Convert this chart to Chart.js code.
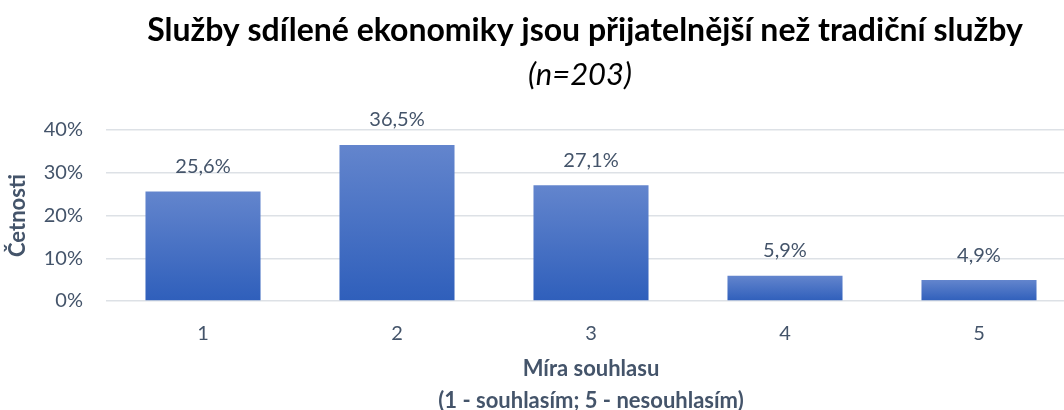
<!DOCTYPE html>
<html lang="cs">
<head>
<meta charset="utf-8">
<script src="https://cdn.jsdelivr.net/npm/chart.js@4"></script>
<style>
  html, body { margin: 0; padding: 0; background: #fff; overflow: hidden; }
  #wrap { width: 1080px; height: 417px; }
</style>
</head>
<body>
<div id="wrap"><canvas id="chart" width="1080" height="417"></canvas></div>
<script>
  // ── Data ─────────────────────────────────────────
  const categories = ['1', '2', '3', '4', '5'];
  const shares     = [25.6, 36.5, 27.1, 5.9, 4.9];
  const yTicks     = [0, 10, 20, 30, 40];
  const titleText  = 'Služby sdílené ekonomiky jsou přijatelnější než tradiční služby';
  const subText    = '(n=203)';
  const xTitle     = ['Míra souhlasu', '(1 - souhlasím; 5 - nesouhlasím)'];
  const yTitle     = 'Četnosti';

  const TEXT  = '#44546A';
  const GRID  = '#DDE1E6';
  const FONT  = "Lato, 'Open Sans', sans-serif";

  // per-bar vertical gradient
  function barFill(c) {
    const chart = c.chart;
    if (!chart.chartArea || c.parsed == null) return '#4472C4';
    const y = chart.scales.y;
    const top = y.getPixelForValue(c.parsed.y);
    const bot = y.getPixelForValue(0);
    const g = chart.ctx.createLinearGradient(0, top, 0, bot);
    g.addColorStop(0, '#6385CD');
    g.addColorStop(1, '#2F5FBB');
    return g;
  }

  // titles + value labels
  const overlay = {
    id: 'overlay',
    afterDatasetsDraw(chart) {
      const ctx = chart.ctx;
      const area = chart.chartArea;
      const cx = (area.left + area.right) / 2 - 6;
      ctx.save();
      ctx.textAlign = 'center';
      ctx.textBaseline = 'middle';
      ctx.fillStyle = '#000';
      ctx.font = 'bold 32px ' + FONT;
      ctx.fillText(titleText, cx, 31);
      ctx.font = 'italic 31px ' + FONT;
      ctx.fillText(subText, cx - 5, 75);

      ctx.fillStyle = TEXT;
      ctx.font = '20px ' + FONT;
      const meta = chart.getDatasetMeta(0);
      meta.data.forEach((bar, i) => {
        ctx.fillText(shares[i].toFixed(1).replace('.', ',') + '%', bar.x, bar.y - 25);
      });
      ctx.restore();
    }
  };

  new Chart(document.getElementById('chart'), {
    type: 'bar',
    data: {
      labels: categories,
      datasets: [{
        data: shares,
        backgroundColor: barFill,
        borderWidth: 0,
        categoryPercentage: 1,
        barPercentage: 0.593
      }]
    },
    options: {
      responsive: false,
      animation: false,
      layout: { padding: { top: 130, right: 4, left: 0, bottom: 0 } },
      plugins: { legend: { display: false }, tooltip: { enabled: false } },
      scales: {
        y: {
          min: 0, max: 40,
          afterBuildTicks: s => { s.ticks = yTicks.map(v => ({ value: v })); },
          afterFit: s => { s.width = 106; },
          border: { display: false },
          grid: { color: GRID, lineWidth: 1.5, drawTicks: false },
          ticks: { padding: 23, color: TEXT, font: { family: FONT, size: 20 }, callback: v => v + '%' },
          title: { display: true, text: yTitle, color: TEXT, padding: { top: 5, bottom: 0 }, font: { family: FONT, size: 22, weight: 'bold' } }
        },
        x: {
          afterFit: s => { s.height = 116; },
          border: { display: false },
          grid: { display: false },
          ticks: { padding: 13, color: TEXT, font: { family: FONT, size: 20 } },
          title: { display: true, text: xTitle, color: TEXT, padding: { top: 0, bottom: 0 }, font: { family: FONT, size: 22, weight: 'bold', lineHeight: 1.45 } }
        }
      }
    },
    plugins: [overlay]
  });
</script>
</body>
</html>
